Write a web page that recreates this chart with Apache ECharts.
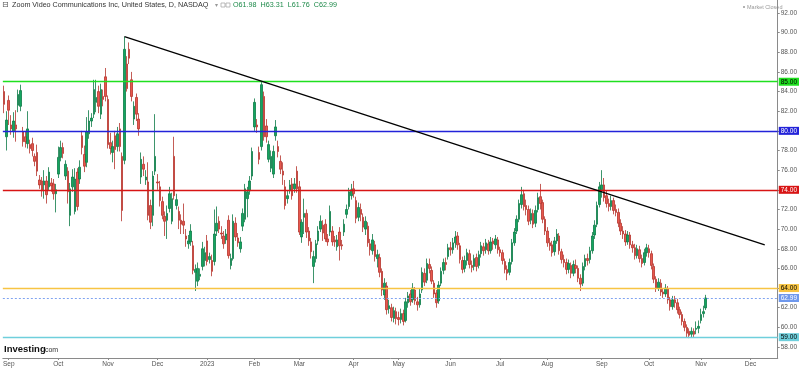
<!DOCTYPE html>
<html><head><meta charset="utf-8">
<script src="https://cdn.jsdelivr.net/npm/echarts@6/dist/echarts.min.js"></script>
<style>html,body{margin:0;padding:0;background:#fff}#c{width:800px;height:368px}</style>
</head><body><div id="c"></div>
<script>
// Trading calendar
const startDate = '2022-08-30';
const endDate = '2023-12-18';
const holidays = ['2022-09-05','2022-11-24','2022-12-26','2023-01-02','2023-01-16','2023-02-20','2023-04-07','2023-05-29','2023-06-19','2023-07-04','2023-09-04','2023-11-23'];
const monthNames = ['2023','Feb','Mar','Apr','May','Jun','Jul','Aug','Sep','Oct','Nov','Dec'];
const yTicks = [58,60,62,64,66,68,70,72,74,76,78,80,82,84,86,88,90,92];

// Daily candles [open, close, low, high]
const aug22 = [[84.0,82.7,81.8,84.6],[79.4,81.1,78.0,82.0]];
const sep22 = [[83.1,82.1,80.6,83.6],[80.6,80.2,79.6,81.6],[80.0,81.0,79.3,81.9],[80.6,80.2,78.9,82.1],[82.6,83.7,81.9,84.2],[82.5,84.1,82.0,84.7],[79.9,78.9,78.4,80.4],[79.4,78.9,78.3,80.0],[78.7,80.2,78.2,82.0],[78.6,78.2,77.7,79.1],[78.7,78.0,77.4,79.3],[77.4,76.9,76.4,77.7],[77.8,75.9,75.4,78.6],[75.0,74.5,74.1,75.5],[74.9,73.9,73.3,75.3],[74.5,74.9,73.1,76.0],[74.9,73.5,72.6,75.4],[74.3,75.8,73.9,76.3],[74.7,74.4,73.8,75.2],[74.6,73.6,73.0,75.1],[73.6,74.0,71.7,74.6]];
const oct22 = [[75.6,77.3,75.2,78.4],[77.3,78.3,76.9,79.0],[78.3,77.7,77.2,78.8],[75.4,76.6,75.0,77.0],[75.9,73.8,72.6,76.3],[71.4,74.1,70.3,74.7],[74.3,75.3,73.8,76.1],[71.8,75.1,71.5,76.2],[75.8,72.3,71.9,76.2],[75.1,76.3,74.6,77.0],[79.5,78.3,77.6,80.0],[77.6,76.4,75.8,78.5],[76.8,79.9,76.3,81.4],[79.7,81.0,79.2,82.1],[81.0,81.3,80.4,81.8],[81.7,84.2,81.3,85.2],[82.9,83.4,81.9,85.2],[84.0,82.5,81.8,84.6],[81.7,84.2,81.2,84.8],[83.5,83.2,82.5,84.2],[85.5,83.5,83.0,86.4]];
const nov22 = [[83.2,78.6,78.2,83.6],[78.8,78.2,77.6,79.8],[77.8,78.4,76.8,79.0],[79.5,78.1,76.1,80.0],[78.4,79.7,77.9,80.4],[80.2,78.4,77.9,80.8],[77.4,71.9,70.8,77.8],[77.0,88.3,76.6,89.6],[86.8,84.3,84.0,87.6],[88.3,87.4,86.8,89.0],[85.2,83.5,83.0,86.0],[81.2,82.5,80.6,83.0],[83.4,81.7,81.0,83.8],[81.2,80.2,79.5,81.8],[75.3,77.1,74.6,77.8],[76.6,76.1,75.4,77.4],[75.0,75.3,74.5,76.0],[74.8,71.4,70.9,76.8],[72.4,70.7,70.0,73.0],[71.4,75.4,70.3,75.9],[75.9,77.4,75.5,81.7]];
const dec22 = [[74.8,74.7,74.0,75.6],[74.3,72.9,72.3,74.9],[72.8,71.4,71.0,73.3],[71.3,70.8,69.3,71.8],[70.9,71.6,69.0,72.4],[72.1,73.6,71.7,74.3],[70.8,73.1,70.5,73.7],[77.4,73.4,73.0,79.4],[72.4,73.0,72.0,73.6],[71.8,70.9,70.0,72.3],[70.9,70.5,69.5,71.5],[70.8,70.4,69.5,72.6],[69.3,69.0,68.2,70.0],[68.5,68.8,68.0,69.4],[68.7,69.8,68.3,70.5],[68.3,65.8,65.4,68.8],[65.6,65.9,63.7,66.4],[64.7,66.0,64.2,66.6],[65.2,65.4,64.8,66.0],[66.2,68.0,65.8,68.7],[66.8,67.6,66.2,68.2]];
const jan23 = [[68.8,66.7,66.3,69.4],[66.9,67.2,66.5,67.6],[66.8,65.7,65.2,67.4],[66.7,69.5,66.3,72.0],[69.8,70.6,69.3,72.3],[70.8,70.0,69.6,71.3],[69.6,69.5,69.0,70.3],[69.3,68.5,68.0,69.8],[68.9,69.5,68.5,70.0],[70.9,67.3,67.0,71.4],[66.3,67.0,65.9,67.5],[67.0,70.8,66.8,71.5],[70.6,69.2,68.8,71.2],[69.1,68.6,68.2,69.6],[68.0,68.7,67.6,69.2],[70.3,71.6,69.8,72.1],[71.0,74.1,70.7,74.6],[73.1,73.8,71.2,74.3],[73.9,74.9,73.5,75.4],[75.4,77.9,75.0,78.3]];
const feb23 = [[80.4,82.9,80.0,83.3],[80.6,80.4,79.8,81.2],[77.8,77.1,76.6,78.4],[78.4,84.7,78.0,85.0],[83.5,79.4,79.0,84.0],[80.5,79.4,78.8,81.2],[77.1,78.6,76.8,79.0],[76.2,77.4,75.8,78.0],[75.6,77.9,75.2,78.5],[79.5,80.4,79.0,81.1],[78.4,77.9,77.3,79.0],[76.9,76.1,75.6,77.5],[75.9,75.5,74.5,76.8],[74.3,72.4,72.0,75.0],[73.1,73.4,72.6,73.9],[73.9,74.5,73.6,75.0],[74.6,73.4,73.0,75.2],[74.1,74.6,73.7,75.2],[75.9,74.1,73.7,76.4]];
const mar23 = [[74.3,69.7,69.4,74.9],[69.2,70.7,68.6,71.0],[71.2,71.6,69.5,73.1],[71.6,69.7,69.1,72.0],[69.8,68.8,68.3,70.2],[68.7,67.7,67.0,69.1],[66.2,67.2,64.5,67.8],[67.0,68.5,66.6,68.9],[68.8,69.8,68.4,70.3],[70.0,70.8,69.7,71.4],[70.4,69.6,68.8,70.9],[70.5,69.0,68.7,71.0],[69.0,68.7,68.3,69.5],[69.7,71.8,69.3,72.4],[69.8,68.7,68.3,70.3],[68.9,68.7,68.2,69.3],[68.2,68.9,67.8,69.4],[69.7,68.3,66.8,70.2],[68.4,68.3,67.9,68.9],[69.7,70.5,69.3,71.0],[71.5,72.0,71.1,72.5],[72.3,73.8,72.0,74.2],[73.4,74.0,73.0,74.6]];
const apr23 = [[74.1,73.6,73.2,74.9],[72.9,71.1,70.6,73.3],[71.2,72.2,70.8,72.7],[72.0,71.5,70.8,72.6],[71.2,70.2,69.7,71.6],[70.0,70.8,69.4,71.3],[70.3,68.6,68.2,70.7],[68.5,67.9,67.3,69.0],[67.8,68.9,67.4,69.5],[68.4,67.2,66.7,68.8],[67.0,67.4,66.1,67.9],[67.1,65.6,65.1,67.5],[65.7,63.8,63.2,66.0],[63.3,64.5,62.8,65.0],[64.2,61.8,61.3,64.6],[61.9,62.2,61.4,62.8],[62.0,61.0,60.6,62.4],[60.9,61.7,60.5,62.1],[61.6,60.9,60.3,62.0]];
const may23 = [[61.0,60.8,60.2,61.6],[60.8,61.4,60.4,61.9],[61.4,60.6,60.2,61.8],[60.7,62.6,60.5,63.0],[62.5,63.2,62.0,63.6],[63.4,62.6,62.2,63.8],[62.8,64.0,62.5,64.5],[63.8,62.7,62.3,64.1],[62.6,62.3,61.7,63.1],[62.3,63.4,62.0,63.9],[63.8,65.6,63.5,66.1],[65.5,64.6,64.2,66.0],[64.8,66.5,64.5,67.0],[66.4,66.0,65.5,67.0],[65.8,64.7,64.4,66.2],[64.5,63.4,63.0,64.8],[63.5,62.5,62.0,63.8],[62.7,64.3,62.4,64.7],[64.5,65.7,64.2,66.1],[65.8,66.6,65.4,67.0],[66.6,66.4,65.8,67.1],[67.2,68.1,66.9,68.5]];
const jun23 = [[68.1,67.9,67.3,68.7],[67.9,68.6,67.5,69.1],[68.6,69.2,68.1,69.8],[69.3,68.4,67.9,69.7],[68.3,66.9,66.5,68.6],[66.8,65.9,65.5,67.2],[66.0,66.8,65.6,67.3],[66.8,67.6,66.3,68.0],[67.5,66.4,66.0,67.9],[66.3,66.1,65.6,66.8],[66.2,67.0,65.8,67.4],[67.1,66.2,65.7,67.5],[66.3,67.4,66.0,67.8],[67.5,68.3,67.1,68.7],[68.2,67.8,67.3,68.6],[67.9,68.6,67.5,69.0],[68.5,67.8,67.4,68.9],[67.8,68.7,67.5,69.2],[68.8,68.5,67.9,69.1],[68.4,69.0,68.0,69.4],[68.9,67.9,67.5,69.2]];
const jul23 = [[67.9,67.6,67.2,68.2],[67.6,66.8,66.4,67.9],[66.7,65.9,65.5,67.0],[65.9,65.5,64.8,66.3],[65.6,66.6,65.3,67.0],[66.7,68.6,66.4,69.0],[68.6,69.7,68.3,70.1],[69.8,71.0,69.5,71.4],[71.0,72.6,70.7,73.0],[72.5,73.5,72.1,74.3],[73.6,72.3,71.9,74.0],[72.4,72.0,71.4,73.0],[72.0,70.8,70.4,72.4],[70.9,71.6,70.5,72.1],[71.6,70.5,70.1,72.0],[70.6,71.9,70.2,72.4],[72.0,73.2,71.7,73.7],[73.3,72.6,72.0,74.6],[72.7,71.0,70.6,73.0],[71.0,69.8,69.4,71.3]];
const aug23 = [[69.8,68.6,68.2,70.2],[68.6,68.3,67.8,69.1],[68.4,67.6,67.2,68.8],[67.7,68.8,67.3,69.2],[68.8,69.5,68.5,70.0],[69.3,67.8,67.4,69.6],[67.7,66.9,66.5,68.0],[66.9,66.6,66.1,67.4],[66.6,65.9,65.4,67.0],[65.9,66.5,65.5,66.9],[66.3,65.5,65.0,66.6],[65.5,66.4,65.2,66.8],[66.3,66.0,65.5,66.9],[66.0,65.0,64.6,66.3],[65.0,64.4,63.7,65.4],[64.5,66.2,64.2,66.6],[66.2,67.0,65.8,67.4],[67.0,66.8,66.3,67.5],[66.9,67.8,66.5,68.2],[67.8,69.3,67.5,69.7],[69.4,70.4,69.0,70.9],[70.5,72.4,70.2,72.8],[72.5,74.3,72.2,74.8]];
const sep23 = [[74.0,74.5,73.2,76.0],[74.5,73.2,72.8,75.2],[73.4,72.6,72.2,73.9],[72.6,72.3,71.8,73.1],[72.3,72.9,71.9,73.4],[72.9,71.9,71.5,73.2],[72.0,71.7,71.3,72.5],[71.7,70.6,70.2,72.1],[70.6,69.8,69.4,71.0],[69.8,69.5,69.0,70.3],[69.5,68.7,68.3,69.9],[68.7,69.4,68.4,69.8],[69.4,68.4,68.0,69.7],[68.4,68.1,67.6,68.8],[68.1,67.3,66.9,68.5],[67.3,68.0,67.0,68.4],[67.9,67.0,66.6,68.3],[67.0,66.5,66.1,67.4],[66.6,67.6,66.3,68.0],[67.6,68.1,67.2,68.5]];
const oct23 = [[68.0,67.6,67.1,68.4],[67.5,66.3,65.9,67.8],[66.2,64.9,64.5,66.5],[64.9,64.0,63.6,65.2],[64.0,64.6,63.7,65.0],[64.5,63.6,63.2,64.9],[63.6,63.4,63.0,64.0],[63.4,64.0,63.1,64.4],[63.9,62.8,62.4,64.2],[62.8,62.1,61.7,63.1],[62.1,62.8,61.8,63.2],[62.8,62.5,62.0,63.2],[62.5,61.8,61.4,62.9],[61.8,61.3,60.9,62.1],[61.3,60.6,60.2,61.6],[60.6,60.0,59.6,60.9],[60.0,59.4,59.0,60.3],[59.6,59.2,58.9,59.9],[59.3,59.6,59.0,60.0],[59.6,59.3,59.0,59.9],[59.8,59.9,59.3,60.6],[59.9,60.1,59.4,60.7]];
const nov23 = [[60.7,61.3,60.4,61.9],[61.4,61.6,61.0,62.2],[61.98,62.99,61.76,63.31]];

// Horizontal levels drawn by the user
const levelValues = [85, 80, 74, 64, 59];
const levelColors = ['#1fe01f', '#2323d9', '#d81414', '#f7c443', '#6fcfdc'];
const levelTextColors = ['#000', '#fff', '#fff', '#000', '#000'];
const lastPrice = 62.99;
// Trend line end points
const trendDates = ['2022-11-10', '2023-12-11'];
const trendValues = [89.6, 68.4];

// ---- build ----
const candles = [].concat(aug22, sep22, oct22, nov22, dec22, jan23, feb23, mar23, apr23, may23, jun23, jul23, aug23, sep23, oct23, nov23);
const dates = [];
(function(){
  const d = new Date(startDate + 'T12:00:00Z');
  const end = new Date(endDate + 'T12:00:00Z');
  while (d <= end) {
    const wd = d.getUTCDay();
    const s = d.toISOString().slice(0, 10);
    if (wd !== 0 && wd !== 6 && holidays.indexOf(s) < 0) dates.push(s);
    d.setUTCDate(d.getUTCDate() + 1);
  }
})();
const monthStart = {};
for (let i = 1; i < dates.length; i++) {
  if (dates[i].slice(0, 7) !== dates[i - 1].slice(0, 7)) monthStart[i] = true;
}
function labelFor(v) {
  const m = parseInt(v.slice(5, 7), 10);
  return m === 1 ? v.slice(0, 4) : monthNames[m - 1];
}

const lblBase = { show: true, position: 'end', distance: 1, fontSize: 6.5, fontFamily: 'Liberation Sans', padding: [1, 2, 0, 2] };
const markData = levelValues.map((v, k) => ({
  yAxis: v,
  lineStyle: { color: levelColors[k], width: 1.4, type: 'solid' },
  label: Object.assign({}, lblBase, { formatter: v.toFixed(2), backgroundColor: levelColors[k], color: levelTextColors[k] })
}));
markData.push({
  yAxis: lastPrice,
  lineStyle: { color: '#7fa3f0', width: 1, type: [2, 2] },
  label: Object.assign({}, lblBase, { formatter: lastPrice.toFixed(2), backgroundColor: '#6f98ec', color: '#fff' })
});
markData.push([
  { coord: [trendDates[0], trendValues[0]], lineStyle: { color: '#000', width: 1.3, type: 'solid' }, label: { show: false } },
  { coord: [trendDates[1], trendValues[1]] }
]);

const chart = echarts.init(document.getElementById('c'), null, { renderer: 'canvas' });
chart.setOption({
  animation: false,
  backgroundColor: '#fff',
  grid: { left: -1, right: 18, top: 0, bottom: 8, containLabel: false },
  xAxis: {
    type: 'category', data: dates, boundaryGap: true,
    axisLine: { show: true, lineStyle: { color: '#8a8a8a', width: 1 } },
    axisTick: { show: true, alignWithLabel: true, length: 2, interval: (i) => !!monthStart[i], lineStyle: { color: '#8a8a8a' } },
    axisLabel: { interval: (i) => !!monthStart[i], formatter: labelFor, fontSize: 6.5, color: '#555', margin: 3, fontFamily: 'Liberation Sans' },
    splitLine: { show: false }
  },
  yAxis: {
    type: 'value', position: 'right', min: 56.88, max: 93.32, scale: true,
    axisLine: { show: true, lineStyle: { color: '#8a8a8a', width: 1 } },
    axisTick: { show: true, length: 2, customValues: yTicks, lineStyle: { color: '#8a8a8a' } },
    axisLabel: { customValues: yTicks, formatter: (v) => v.toFixed(2), fontSize: 6.5, color: '#555', margin: 3, fontFamily: 'Liberation Sans' },
    splitLine: { show: false }
  },
  series: [{
    type: 'candlestick',
    data: candles,
    barWidth: 2,
    itemStyle: { color: '#13a660', color0: '#e8574d', borderColor: '#0d7a46', borderColor0: '#b5332c', borderWidth: 0.8 },
    markLine: { silent: true, symbol: ['none', 'none'], animation: false, data: markData }
  }],
  graphic: [
    { type: 'text', left: 2, top: 1, style: { text: '⊟', fontSize: 8, fill: '#555', fontFamily: 'DejaVu Sans' } },
    { type: 'text', left: 12, top: 2, style: { text: 'Zoom Video Communications Inc, United States, D, NASDAQ', fontSize: 7.2, fill: '#333', fontFamily: 'Liberation Sans' } },
    { type: 'text', left: 215, top: 2, style: { text: '▾', fontSize: 6, fill: '#999', fontFamily: 'DejaVu Sans' } },
    { type: 'rect', shape: { x: 221, y: 3, width: 4, height: 4 }, style: { fill: '#fff', stroke: '#aaa', lineWidth: 0.8 } },
    { type: 'rect', shape: { x: 226, y: 3, width: 4, height: 4 }, style: { fill: '#fff', stroke: '#aaa', lineWidth: 0.8 } },
    { type: 'text', left: 233, top: 2, style: { text: 'O61.98  H63.31  L61.76  C62.99', fontSize: 7.2, fill: '#1e8a4a', fontFamily: 'Liberation Sans' } },
    { type: 'circle', shape: { cx: 744, cy: 7, r: 1 }, style: { fill: '#999' } },
    { type: 'text', left: 747, top: 4, style: { text: 'Market Closed', fontSize: 5.5, fill: '#999', fontFamily: 'Liberation Sans' } },
    { type: 'text', left: 4, top: 344, style: { text: 'Investing', fontSize: 9.5, fontWeight: 'bold', fill: '#111', fontFamily: 'Liberation Sans' } },
    { type: 'text', left: 43, top: 347, style: { text: '.com', fontSize: 7, fill: '#333', fontFamily: 'Liberation Sans' } }
  ]
});
</script></body></html>
